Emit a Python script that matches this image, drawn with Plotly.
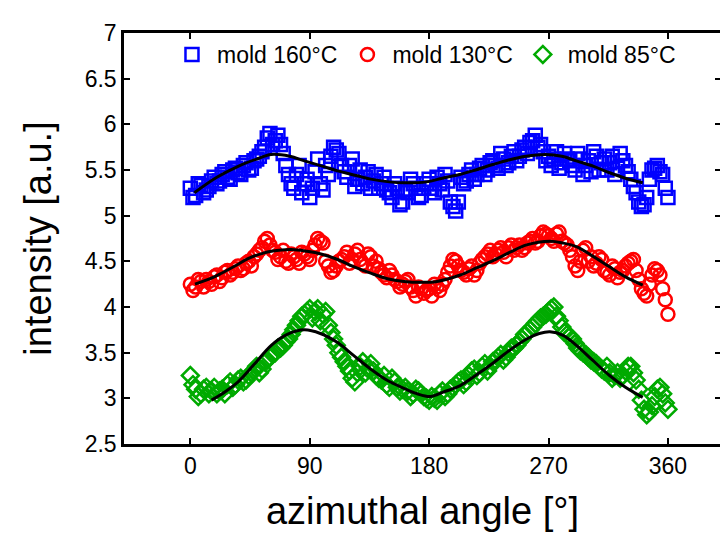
import plotly.graph_objects as go

# measured angles (degrees): two interleaved sampling sets
angles_a = list(range(0, 361, 4))
angles_b = list(range(2, 360, 4))

mold160_a = [5.30, 5.22, 5.33, 5.28, 5.38, 5.35, 5.45, 5.42, 5.50, 5.47,
             5.55, 5.50, 5.60, 5.65, 5.75, 5.90, 5.82, 5.78, 5.55, 5.35,
             5.45, 5.25, 5.40, 5.30, 5.62, 5.28, 5.45, 5.75, 5.68, 5.48,
             5.55, 5.32, 5.50, 5.42, 5.30, 5.45, 5.35, 5.28, 5.20, 5.30,
             5.15, 5.25, 5.35, 5.20, 5.30, 5.40, 5.25, 5.35, 5.45, 5.15,
             5.05, 5.42, 5.38, 5.50, 5.45, 5.55, 5.50, 5.60, 5.52, 5.62,
             5.58, 5.70, 5.65, 5.75, 5.80, 5.88, 5.78, 5.60, 5.55, 5.70,
             5.58, 5.62, 5.55, 5.68, 5.45, 5.60, 5.70, 5.50, 5.62, 5.58,
             5.45, 5.68, 5.55, 5.40, 5.25, 5.10, 5.20, 5.50, 5.55, 5.45,
             5.20]
mold160_b = [5.20, 5.35, 5.25, 5.32, 5.42, 5.38, 5.48, 5.40, 5.52, 5.45,
             5.58, 5.52, 5.62, 5.70, 5.85, 5.78, 5.88, 5.68, 5.45, 5.30,
             5.55, 5.35, 5.20, 5.48, 5.35, 5.55, 5.65, 5.72, 5.55, 5.42,
             5.62, 5.40, 5.35, 5.48, 5.38, 5.30, 5.42, 5.25, 5.35, 5.12,
             5.28, 5.40, 5.30, 5.22, 5.35, 5.30, 5.42, 5.28, 5.38, 5.10,
             5.15, 5.35, 5.45, 5.40, 5.52, 5.45, 5.58, 5.55, 5.68, 5.55,
             5.65, 5.60, 5.72, 5.68, 5.82, 5.75, 5.70, 5.65, 5.62, 5.52,
             5.68, 5.60, 5.50, 5.62, 5.55, 5.48, 5.65, 5.58, 5.50, 5.65,
             5.52, 5.60, 5.48, 5.32, 5.15, 5.12, 5.40, 5.52, 5.48, 5.30]

mold130_a = [4.25, 4.22, 4.28, 4.30, 4.25, 4.35, 4.32, 4.40, 4.38, 4.45,
             4.42, 4.50, 4.55, 4.62, 4.72, 4.68, 4.60, 4.55, 4.50, 4.58,
             4.52, 4.60, 4.55, 4.62, 4.75, 4.70, 4.45, 4.40, 4.50, 4.55,
             4.48, 4.58, 4.52, 4.45, 4.55, 4.50, 4.38, 4.32, 4.35, 4.28,
             4.25, 4.30, 4.18, 4.22, 4.15, 4.20, 4.25, 4.18, 4.30, 4.45,
             4.50, 4.40, 4.35, 4.45, 4.40, 4.52, 4.58, 4.55, 4.62, 4.60,
             4.65, 4.62, 4.68, 4.65, 4.72, 4.70, 4.78, 4.80, 4.75, 4.80,
             4.72, 4.68, 4.55, 4.40, 4.62, 4.50, 4.45, 4.55, 4.40, 4.35,
             4.42, 4.38, 4.45, 4.50, 4.40, 4.20, 4.12, 4.35, 4.40, 4.20,
             3.92]
mold130_b = [4.18, 4.30, 4.22, 4.28, 4.33, 4.28, 4.38, 4.35, 4.42, 4.40,
             4.48, 4.45, 4.58, 4.65, 4.75, 4.62, 4.52, 4.62, 4.48, 4.55,
             4.48, 4.58, 4.52, 4.68, 4.72, 4.50, 4.38, 4.45, 4.52, 4.60,
             4.52, 4.62, 4.48, 4.58, 4.45, 4.42, 4.35, 4.40, 4.30, 4.22,
             4.28, 4.22, 4.12, 4.20, 4.18, 4.12, 4.22, 4.25, 4.38, 4.52,
             4.45, 4.38, 4.42, 4.35, 4.48, 4.55, 4.62, 4.58, 4.65, 4.55,
             4.68, 4.65, 4.62, 4.70, 4.75, 4.72, 4.82, 4.78, 4.72, 4.82,
             4.70, 4.62, 4.45, 4.50, 4.65, 4.55, 4.48, 4.52, 4.38, 4.45,
             4.32, 4.40, 4.48, 4.52, 4.30, 4.15, 4.25, 4.42, 4.35, 4.08]

mold85_a = [3.25, 3.10, 3.05, 3.12, 3.08, 3.05, 3.10, 3.15, 3.12, 3.20,
            3.18, 3.25, 3.30, 3.28, 3.40, 3.45, 3.50, 3.55, 3.62, 3.70,
            3.80, 3.90, 3.95, 3.88, 3.98, 3.92, 3.80, 3.65, 3.50, 3.40,
            3.30, 3.18, 3.35, 3.28, 3.38, 3.25, 3.20, 3.15, 3.22, 3.12,
            3.10, 3.08, 3.05, 3.08, 3.02, 2.98, 3.00, 3.05, 3.02, 3.10,
            3.15, 3.20, 3.18, 3.30, 3.25, 3.35, 3.30, 3.40, 3.45, 3.42,
            3.50, 3.55, 3.62, 3.70, 3.75, 3.82, 3.88, 3.92, 3.98, 3.90,
            3.78, 3.70, 3.65, 3.55, 3.50, 3.45, 3.40, 3.35, 3.30, 3.28,
            3.25, 3.22, 3.30, 3.35, 3.20, 2.98, 2.82, 2.92, 3.10, 3.05,
            2.88]
mold85_b = [3.15, 3.02, 3.10, 3.05, 3.12, 3.08, 3.05, 3.18, 3.15, 3.22,
            3.20, 3.28, 3.35, 3.32, 3.42, 3.48, 3.55, 3.58, 3.65, 3.75,
            3.85, 3.92, 3.98, 3.95, 3.85, 3.95, 3.72, 3.58, 3.45, 3.35,
            3.22, 3.28, 3.40, 3.32, 3.30, 3.22, 3.25, 3.12, 3.18, 3.08,
            3.12, 3.02, 3.10, 3.05, 3.00, 3.02, 2.98, 3.08, 3.05, 3.12,
            3.18, 3.15, 3.25, 3.32, 3.28, 3.38, 3.35, 3.42, 3.48, 3.45,
            3.55, 3.58, 3.65, 3.72, 3.78, 3.85, 3.90, 3.95, 4.00, 3.85,
            3.72, 3.68, 3.60, 3.52, 3.48, 3.42, 3.38, 3.32, 3.35, 3.22,
            3.28, 3.25, 3.35, 3.28, 3.10, 2.88, 2.85, 3.02, 3.12, 2.95]

fit160_x = [3, 20, 36, 50, 61, 75, 86, 100, 111, 125, 136, 150, 161, 178,
            190, 203, 215, 228, 240, 253, 268, 280, 291, 304, 316, 328, 341]
fit160_y = [5.25, 5.42, 5.54, 5.62, 5.67, 5.65, 5.60, 5.54, 5.49, 5.44,
            5.40, 5.37, 5.36, 5.37, 5.41, 5.45, 5.50, 5.56, 5.61, 5.65,
            5.67, 5.65, 5.60, 5.54, 5.47, 5.41, 5.36]

fit130_x = [3.5, 15, 23.5, 35, 43.5, 55, 61, 76, 88, 98.5, 111, 123.5, 136,
            148.5, 161, 173.5, 186, 203.5, 216, 228.5, 241, 253.5, 271, 281,
            291, 303, 316, 328, 341]
fit130_y = [4.25, 4.31, 4.37, 4.46, 4.53, 4.59, 4.61, 4.63, 4.61, 4.58,
            4.52, 4.44, 4.37, 4.31, 4.28, 4.27, 4.28, 4.35, 4.43, 4.51,
            4.60, 4.68, 4.72, 4.70, 4.66, 4.56, 4.44, 4.33, 4.24]

fit85_x = [16, 26, 36, 48, 61, 73, 86, 98, 111, 123, 136, 148, 161, 171,
           181, 191, 203.5, 216, 228.5, 241, 253.5, 263, 271, 281, 291, 303,
           316, 328, 341]
fit85_y = [2.98, 3.07, 3.18, 3.37, 3.58, 3.70, 3.75, 3.71, 3.61, 3.47,
           3.32, 3.20, 3.11, 3.05, 3.02, 3.07, 3.14, 3.26, 3.39, 3.53,
           3.65, 3.71, 3.73, 3.69, 3.58, 3.42, 3.25, 3.12, 3.01]

x_ticks = [0, 90, 180, 270, 360]
labels = ["mold 160°C", "mold 130°C", "mold 85°C"]

FONT = "Liberation Sans, Arial, sans-serif"

fig = go.Figure()

series = [
    (mold160_a, mold160_b, labels[0], "#0000ff", "square-open", fit160_x, fit160_y),
    (mold130_a, mold130_b, labels[1], "#ff0000", "circle-open", fit130_x, fit130_y),
    (mold85_a, mold85_b, labels[2], "#00aa00", "diamond-open", fit85_x, fit85_y),
]

for ya, yb, name, col, sym, fx, fy in series:
    fig.add_trace(go.Scatter(
        x=angles_a + angles_b, y=ya + yb, mode="markers", name=name,
        marker=dict(symbol=sym, size=13, color=col,
                    line=dict(color=col, width=2.5)),
    ))

for ya, yb, name, col, sym, fx, fy in series:
    fig.add_trace(go.Scatter(
        x=fx, y=fy, mode="lines", showlegend=False,
        line=dict(color="black", width=3, shape="spline"),
    ))

axis_common = dict(
    showline=True, linecolor="black", linewidth=2.5, mirror="ticks",
    ticks="inside", ticklen=6, tickwidth=2, tickcolor="black",
    showgrid=False, zeroline=False,
    tickfont=dict(family=FONT, size=23, color="black"),
)

fig.update_xaxes(range=[-50, 400], tickvals=x_ticks,
                 title=dict(text="azimuthal angle [°]",
                            font=dict(family=FONT, size=38, color="black"),
                            standoff=20),
                 **axis_common)
fig.update_yaxes(range=[2.5, 7], dtick=0.5,
                 title=dict(text="intensity [a.u.]",
                            font=dict(family=FONT, size=38, color="black"),
                            standoff=22),
                 **axis_common)

fig.update_layout(
    width=728, height=537,
    margin=dict(l=116, r=15, t=20, b=101),
    paper_bgcolor="white", plot_bgcolor="white",
    legend=dict(orientation="h", x=0.072, y=1.0, xanchor="left", yanchor="top",
                font=dict(family=FONT, size=23, color="black"),
                bgcolor="rgba(0,0,0,0)", itemwidth=40, tracegroupgap=0),
    font=dict(family=FONT, color="black"),
)

fig.write_html("out.html")
